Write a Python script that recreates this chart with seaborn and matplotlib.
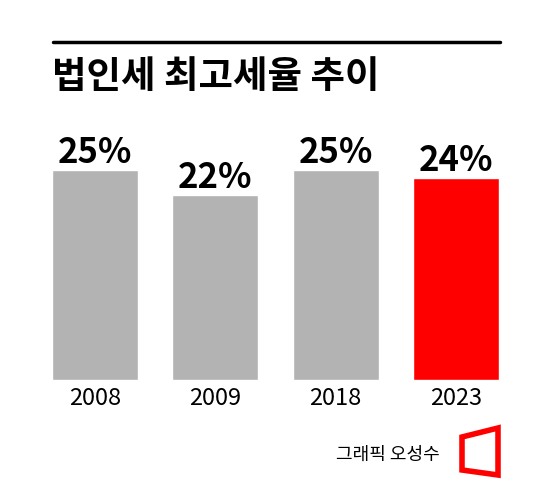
import matplotlib
matplotlib.use("Agg")
import matplotlib.pyplot as plt
import seaborn as sns
import pandas as pd
from matplotlib.patches import Polygon
from matplotlib.lines import Line2D

years = ["2008", "2009", "2018", "2023"]
rates = [25, 22, 25, 24]
colors = ["#b3b3b3", "#b3b3b3", "#b3b3b3", "#ff0000"]

sns.set_style("white")
plt.rcParams['font.family'] = ['Noto Sans CJK KR', 'DejaVu Sans']
plt.rcParams['text.color'] = 'black'
plt.rcParams['xtick.color'] = 'black'

W, H = 558, 488
fig = plt.figure(figsize=(W/100, H/100), dpi=100)
ax = fig.add_axes([35/W, (H-380)/H, 481/W, 252/H])
df = pd.DataFrame({"year": years, "rate": rates})
sns.barplot(data=df, x="year", y="rate", hue="year", palette=colors, legend=False,
            width=0.717, ax=ax, saturation=1)
ax.set_xlim(-0.5, 3.5)
ax.set_ylim(0, 30)
for s in ax.spines.values():
    s.set_visible(False)
ax.set_yticks([])
ax.set_xlabel(""); ax.set_ylabel("")
ax.tick_params(axis='x', length=0, pad=5, labelsize=17, labelcolor='black')
for i, v in enumerate(rates):
    ax.annotate(f"{v}%", (i, v), xytext=(0, 0), textcoords="offset points",
                ha="center", va="bottom", fontsize=25, fontweight="bold", color="black")

fig.add_artist(Line2D([53/W, 500/W], [1-42/H, 1-42/H], color="black", lw=2.5))
fig.text(52/W, 1-76/H, "법인세 최고세율 추이", fontsize=27, fontweight="heavy", va="center", ha="left", color="black")
fig.text(440/W, 1-455/H, "그래픽 오성수", fontsize=13, va="center", ha="right", color="black")
pts = [(462, 437), (498, 428), (498, 475), (462, 470)]
fig.add_artist(Polygon([(x/W, 1-y/H) for x, y in pts], closed=True, fill=False,
                       edgecolor="#ff0000", lw=4))
fig.savefig("out.png", dpi=100)
